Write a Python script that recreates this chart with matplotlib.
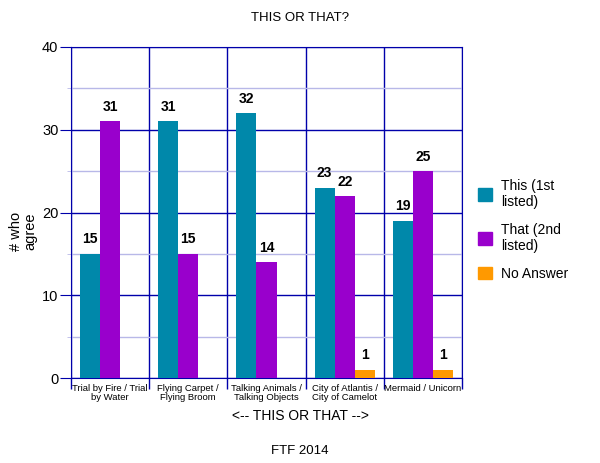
import numpy as np
import matplotlib
matplotlib.use("Agg")
import matplotlib.pyplot as plt
from matplotlib.patches import Patch

plt.rcParams['font.family'] = ['Liberation Sans', 'DejaVu Sans']

categories = ["Trial by Fire / Trial\nby Water", "Flying Carpet /\nFlying Broom",
              "Talking Animals /\nTalking Objects", "City of Atlantis /\nCity of Camelot",
              "Mermaid / Unicorn"]
series_names = ["This (1st\nlisted)", "That (2nd\nlisted)", "No Answer"]
this_vals = [15, 31, 32, 23, 19]
that_vals = [31, 15, 14, 22, 25]
no_answer = [0, 0, 0, 1, 1]
colors = ["#0088aa", "#9900cc", "#ff9900"]

fig = plt.figure(figsize=(6, 4.63), dpi=100)
ax = fig.add_axes([71/600, 1 - 378/463, (462-71)/600, (378-47)/463])

n = len(categories)
x = np.arange(n)
w = 20/78
offsets = [-w, 0, w]
all_vals = [this_vals, that_vals, no_answer]
for vals, off, c in zip(all_vals, offsets, colors):
    ax.bar(x + off, vals, width=w, color=c, zorder=3)
    for xi, v in zip(x, vals):
        if v > 0:
            ax.text(xi + off, v + 0.9, str(v), ha='center', va='bottom',
                    fontsize=10, fontweight='bold', zorder=4)

ax.set_xlim(-0.5, n - 0.5)
ax.set_ylim(0, 40)
ax.set_yticks([0, 10, 20, 30, 40])
ax.set_yticks([5, 15, 25, 35], minor=True)
ax.yaxis.grid(True, which='major', color='#0000aa', lw=1, zorder=1)
ax.yaxis.grid(True, which='minor', color='#b8b8e8', lw=1, zorder=1)
for b in np.arange(n + 1) - 0.5:
    ax.axvline(b, color='#0000aa', lw=1, zorder=1)

ax.set_xticks(np.arange(n + 1) - 0.5)
ax.set_xticklabels([])
ax.set_xticks(x, minor=True)
ax.set_xticklabels(categories, minor=True, fontsize=6.8, linespacing=1.1)
ax.tick_params(axis='x', which='major', length=8, color='#0000aa', width=1)
ax.tick_params(axis='x', which='minor', length=0, pad=4)
ax.tick_params(axis='y', which='major', length=8, color='#0000aa', labelsize=10.5, pad=1)
ax.tick_params(axis='y', which='minor', length=3, color='#b8b8e8')
for s in ax.spines.values():
    s.set_color('#0000aa')

ax.set_ylabel("# who\nagree", fontsize=10.5, linespacing=1.0)
ax.yaxis.set_label_coords((37 - 71) / 391, (378 - 231) / 331)
fig.text(0.5, 1 - 416/463, "<-- THIS OR THAT -->", ha='center', va='center', fontsize=10)
fig.text(0.5, 1 - 18/463, "THIS OR THAT?", ha='center', va='center', fontsize=9.5)
fig.text(0.5, 1 - 451/463, "FTF 2014", ha='center', va='center', fontsize=9.5)

handles = [Patch(color=c) for c in colors]
fig.legend(handles, series_names, loc='upper left', bbox_to_anchor=(466/600, 1 - 166/463),
           frameon=False, fontsize=10, handlelength=1.0, handleheight=1.0,
           handletextpad=0.6, labelspacing=1.0)

fig.savefig("out.png", dpi=100)
